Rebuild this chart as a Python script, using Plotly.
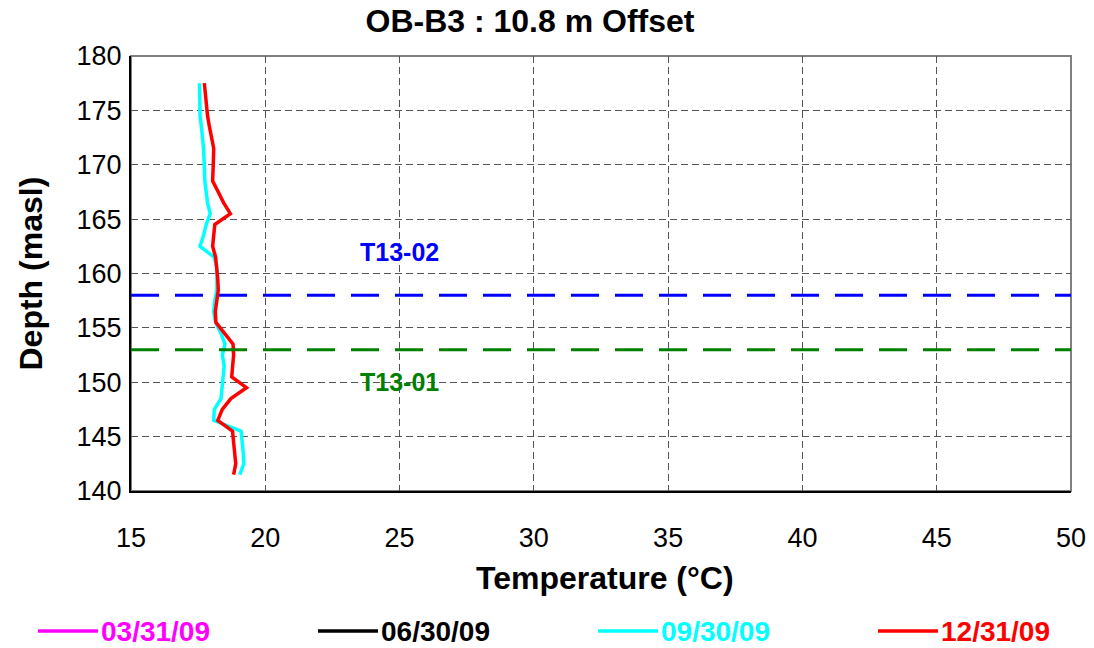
import plotly.graph_objects as go

# ---- data ----
depth = [177.5, 176.5, 175.5, 174.5, 173.5, 172.5, 171.5, 170.5, 169.5, 168.5,
         167.5, 166.5, 165.5, 164.5, 163.5, 162.5, 161.5, 160.5, 159.5, 158.5,
         157.5, 156.5, 155.5, 154.5, 153.5, 152.5, 151.5, 150.5, 149.5, 148.5,
         147.5, 146.5, 145.5, 144.5, 143.5, 142.5, 141.5]

temp_0930 = [17.55, 17.55, 17.55, 17.57, 17.62, 17.67, 17.70, 17.72, 17.73, 17.75,
             17.80, 17.85, 17.95, 17.80, 17.70, 17.57, 18.10, 18.20, 18.20, 18.20,
             18.12, 18.08, 18.15, 18.35, 18.50, 18.40, 18.47, 18.42, 18.40, 18.35,
             18.10, 18.08, 19.10, 19.15, 19.18, 19.20, 19.05]

temp_1231 = [17.73, 17.76, 17.80, 17.85, 17.92, 18.00, 18.08, 18.07, 18.05, 18.04,
             18.25, 18.45, 18.70, 18.12, 18.08, 18.04, 18.15, 18.20, 18.23, 18.25,
             18.20, 18.14, 18.16, 18.50, 18.80, 18.82, 18.80, 18.75, 19.30, 18.72,
             18.40, 18.23, 18.78, 18.82, 18.85, 18.90, 18.82]

series_names = ["03/31/09", "06/30/09", "09/30/09", "12/31/09"]
series_colors = ["#FF00FF", "#000000", "#00FFFF", "#FF0000"]

screens = ["T13-02", "T13-01"]
screen_elev = [158.0, 153.0]
screen_colors = ["#0000FF", "#008000"]
label_x = [25, 25]
label_y = [162.0, 150.0]

x_ticks = [15, 20, 25, 30, 35, 40, 45, 50]
y_ticks = [140, 145, 150, 155, 160, 165, 170, 175, 180]

FONT = "Liberation Sans, Arial, sans-serif"

W, H = 1094, 648
ML, MR, MT, MB = 131, 23, 56, 157
PW, PH = W - ML - MR, H - MT - MB


def px_x(p):
    return (p - ML) / PW


def px_y(p):
    return (H - MB - p) / PH


fig = go.Figure()

series_data = {
    "03/31/09": ([None], [None]),
    "06/30/09": ([None], [None]),
    "09/30/09": (temp_0930, depth),
    "12/31/09": (temp_1231, depth),
}

for name, color in zip(series_names, series_colors):
    xs, ys = series_data[name]
    fig.add_trace(go.Scatter(
        x=xs, y=ys, mode="lines",
        line=dict(color=color, width=3.5),
        name=name, showlegend=False,
    ))

# legend drawn as line + coloured bold label, spaced like the reference
LEG_Y = 631
for i, (name, color) in enumerate(zip(series_names, series_colors)):
    x0 = 38 + 280 * i
    fig.add_shape(type="line", xref="paper", yref="paper",
                  x0=px_x(x0), x1=px_x(x0 + 60), y0=px_y(LEG_Y), y1=px_y(LEG_Y),
                  line=dict(color=color, width=3.5))
    fig.add_annotation(xref="paper", yref="paper", x=px_x(x0 + 62), y=px_y(LEG_Y),
                       xanchor="left", yanchor="middle", showarrow=False,
                       text="<b>%s</b>" % name, borderpad=0,
                       font=dict(family=FONT, size=28, color=color))

# screen elevation dashed lines
for name, elev, color in zip(screens, screen_elev, screen_colors):
    fig.add_trace(go.Scatter(
        x=[x_ticks[0], x_ticks[-1]], y=[elev, elev], mode="lines",
        line=dict(color=color, width=3, dash="28px,16px"),
        showlegend=False, hoverinfo="skip",
    ))

for name, lx, ly, color in zip(screens, label_x, label_y, screen_colors):
    fig.add_annotation(x=lx, y=ly, text="<b>%s</b>" % name, showarrow=False,
                       font=dict(family=FONT, size=25, color=color))

# plot border (top/right gray)
fig.add_shape(type="rect", xref="paper", yref="paper", x0=0, x1=1, y0=0, y1=1,
              line=dict(color="#808080", width=2), layer="below")

# axis titles
fig.add_annotation(xref="paper", yref="paper", x=px_x(605), y=px_y(578),
                   xanchor="center", yanchor="middle", showarrow=False,
                   text="<b>Temperature (°C)</b>",
                   font=dict(family=FONT, size=32, color="black"))
fig.add_annotation(xref="paper", yref="paper", x=px_x(30), y=0.5,
                   xanchor="center", yanchor="middle", showarrow=False,
                   textangle=-90, text="<b>Depth (masl)</b>",
                   font=dict(family=FONT, size=32, color="black"))

fig.update_layout(
    width=W, height=H,
    margin=dict(l=ML, r=MR, t=MT, b=MB),
    paper_bgcolor="white", plot_bgcolor="white",
    font=dict(family=FONT, color="black"),
    title=dict(text="<b>OB-B3 : 10.8 m Offset</b>", x=530 / W, xanchor="center",
               y=1 - 21 / H, yanchor="middle",
               font=dict(family=FONT, size=32, color="black")),
    showlegend=False,
    xaxis=dict(range=[15, 50], tickvals=x_ticks, ticks="", automargin=False,
               showline=True, linecolor="black", linewidth=2,
               showgrid=True, gridcolor="#555555", gridwidth=1, griddash="7px,4px",
               zeroline=False, tickfont=dict(family=FONT, size=27),
               ticklabelstandoff=22),
    yaxis=dict(range=[140, 180], tickvals=y_ticks, ticks="", automargin=False,
               showline=True, linecolor="black", linewidth=2,
               showgrid=True, gridcolor="#555555", gridwidth=1, griddash="7px,4px",
               zeroline=False, tickfont=dict(family=FONT, size=27),
               ticklabelstandoff=2),
)

fig.write_html("out.html")
